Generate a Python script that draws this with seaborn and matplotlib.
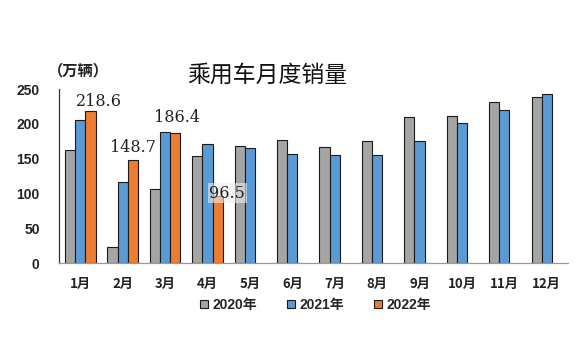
import matplotlib
matplotlib.use("Agg")
import matplotlib.pyplot as plt
import seaborn as sns
import pandas as pd

# 乘用车月度销量（万辆）
months = ["1月", "2月", "3月", "4月", "5月", "6月", "7月", "8月", "9月", "10月", "11月", "12月"]
sales_2020 = [162, 23, 106, 154, 168, 177, 167, 176, 210, 212, 231, 239]
sales_2021 = [205, 116, 188, 171, 165, 157, 155, 156, 176, 201, 220, 243]
sales_2022 = [218.6, 148.7, 186.4, 96.5]
years = ["2020年", "2021年", "2022年"]
colors = ["#A5A5A5", "#5B9BD5", "#ED7D31"]

rows = []
for year, vals in zip(years, [sales_2020, sales_2021, sales_2022]):
    for m, v in zip(months, vals):
        rows.append({"month": m, "year": year, "sales": v})
df = pd.DataFrame(rows)

sns.set_theme(style="white")
plt.rcParams["font.family"] = ["Noto Sans CJK SC", "DejaVu Sans"]

fig = plt.figure(figsize=(5.79, 3.51), dpi=100)
ax = fig.add_axes([0.102, 0.25, 0.879, 0.496])

sns.barplot(data=df, x="month", y="sales", hue="year", order=months,
            hue_order=years, palette=colors, saturation=1, width=0.72,
            edgecolor="#1a1a1a", linewidth=0.8, ax=ax)

ax.set_xlim(-0.5, 11.5)
ax.set_ylim(0, 250)
ax.set_yticks([0, 50, 100, 150, 200, 250])
ax.set_xlabel("")
ax.set_ylabel("")
sns.despine(ax=ax, top=True, right=True)
ax.spines["left"].set_color("#333333")
ax.spines["left"].set_linewidth(0.9)
ax.spines["bottom"].set_color("#999999")
ax.spines["bottom"].set_linewidth(0.9)
ax.tick_params(axis="both", length=0)
ax.tick_params(axis="y", pad=14)
ax.tick_params(axis="x", pad=10)
for t in ax.get_yticklabels():
    t.set_family(["Liberation Sans"])
    t.set_fontweight("bold")
    t.set_fontsize(10)
    t.set_color("#222222")
for t in ax.get_xticklabels():
    t.set_fontsize(9.5)
    t.set_fontweight("bold")
    t.set_color("#222222")

# 2022 data labels
label_offsets = [(6, 1), (0, 3), (1, 5), (7, -4)]
for i, v in enumerate(sales_2022):
    dx, dy = label_offsets[i]
    ann = ax.annotate(f"{v:.1f}", xy=(i + 0.24, v), xytext=(dx, dy),
                      textcoords="offset points", ha="center", va="bottom",
                      fontsize=11.5, family=["DejaVu Serif"], color="#222222")
    if i == 3:
        ann.set_bbox(dict(facecolor="#eeeeee", edgecolor="none", alpha=0.6, pad=1))

handles, labels = ax.get_legend_handles_labels()
ax.legend(handles, labels, loc="center", bbox_to_anchor=(0.545, 0.131),
          bbox_transform=fig.transFigure, ncol=3, frameon=False,
          handlelength=0.55, handleheight=0.55, handletextpad=0.3,
          columnspacing=2.2,
          prop={"family": ["Liberation Sans", "Noto Sans CJK SC"], "weight": "bold", "size": 10})

fig.text(0.462, 0.786, "乘用车月度销量", ha="center", va="center", fontsize=16.5,
         color="#111111")
fig.text(0.082, 0.800, "（万辆）", ha="left", va="center", fontsize=11,
         fontweight="bold", color="#222222")

fig.savefig("out.png", dpi=100)
